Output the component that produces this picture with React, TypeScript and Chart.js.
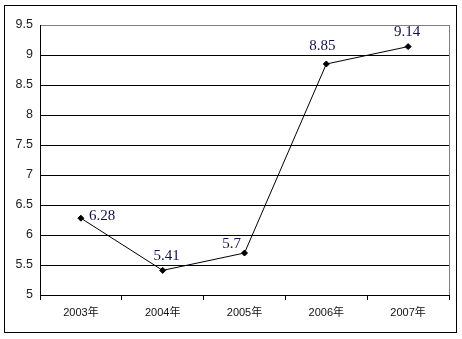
import React, { useEffect, useRef } from "react";
import { Chart, registerables } from "chart.js";

Chart.register(...registerables);

const categories = ["2003年", "2004年", "2005年", "2006年", "2007年"];
const values = [6.28, 5.41, 5.7, 8.85, 9.14];
const labels = ["6.28", "5.41", "5.7", "8.85", "9.14"];
const yMin = 5;
const yMax = 9.5;
const yStep = 0.5;

// label offsets relative to point (dx, dy) in px
const labelOffsets: [number, number][] = [
  [8, -2],
  [4, -14],
  [-13, -9],
  [-4, -18],
  [-1, -15],
];

const frame = {
  id: "frame",
  beforeDraw(chart: any) {
    const { ctx } = chart;
    ctx.save();
    ctx.fillStyle = "#fff";
    ctx.fillRect(0, 0, chart.width, chart.height);
    ctx.strokeStyle = "#000";
    ctx.lineWidth = 1;
    ctx.strokeRect(4.5, 5.5, 452, 327);
    ctx.restore();
  },
  afterDatasetsDraw(chart: any) {
    const { ctx, chartArea } = chart;
    ctx.save();
    ctx.strokeStyle = "#808080";
    ctx.lineWidth = 1;
    ctx.beginPath();
    const r = Math.round(chartArea.right) + 0.5;
    ctx.moveTo(r, chartArea.top);
    ctx.lineTo(r, chartArea.bottom);
    ctx.stroke();
    const meta = chart.getDatasetMeta(0);
    ctx.fillStyle = "#10104a";
    ctx.font = "15px 'Liberation Serif', 'DejaVu Serif', serif";
    ctx.textBaseline = "middle";
    ctx.textAlign = "left";
    meta.data.forEach((pt: any, i: number) => {
      const [dx, dy] = labelOffsets[i];
      const text = labels[i];
      const w = ctx.measureText(text).width;
      const x = i === 0 ? pt.x + dx : pt.x + dx - w / 2;
      ctx.fillText(text, x, pt.y + dy);
    });
    ctx.restore();
  },
};

export default function App() {
  const ref = useRef<HTMLCanvasElement>(null);
  useEffect(() => {
    if (!ref.current) return;
    const chart = new Chart(ref.current, {
      type: "line",
      data: {
        labels: categories,
        datasets: [
          {
            data: values,
            borderColor: "#000",
            borderWidth: 1,
            pointStyle: "rectRot",
            pointRadius: 3,
            pointBackgroundColor: "#000",
            pointBorderColor: "#000",
            tension: 0,
          },
        ],
      },
      options: {
        animation: false,
        responsive: false,
        devicePixelRatio: 1,
        layout: { padding: { top: 25, right: 13, left: 0, bottom: 0 } },
        plugins: { legend: { display: false }, tooltip: { enabled: false } },
        scales: {
          x: {
            offset: true,
            grid: {
              offset: true,
              drawOnChartArea: false,
              drawTicks: true,
              tickLength: 5,
              color: "#000",
            },
            border: { color: "#000", width: 1 },
            ticks: {
              color: "#111",
              font: { size: 11, family: "'Liberation Sans', 'Noto Sans CJK SC', sans-serif" },
              padding: 6,
              maxRotation: 0,
            },
            afterFit(scale: any) {
              scale.height = 44;
            },
          },
          y: {
            min: yMin,
            max: yMax,
            ticks: {
              stepSize: yStep,
              color: "#222",
              font: { size: 12.5, family: "'Liberation Sans', sans-serif" },
              padding: 7,
              callback: (v: any) => String(Number(v)),
            },
            grid: {
              drawTicks: false,
              color: (c: any) => (c.tick && c.tick.value === yMax ? "#808080" : "#000"),
            },
            border: { color: "#000", width: 1 },
            afterFit(scale: any) {
              scale.width = 40;
            },
          },
        },
      },
      plugins: [frame],
    });
    return () => chart.destroy();
  }, []);
  return (
    <div style={{ position: "fixed", left: 0, top: 0, width: 462, height: 339, background: "#fff" }}>
      <canvas ref={ref} width={462} height={339} />
    </div>
  );
}
